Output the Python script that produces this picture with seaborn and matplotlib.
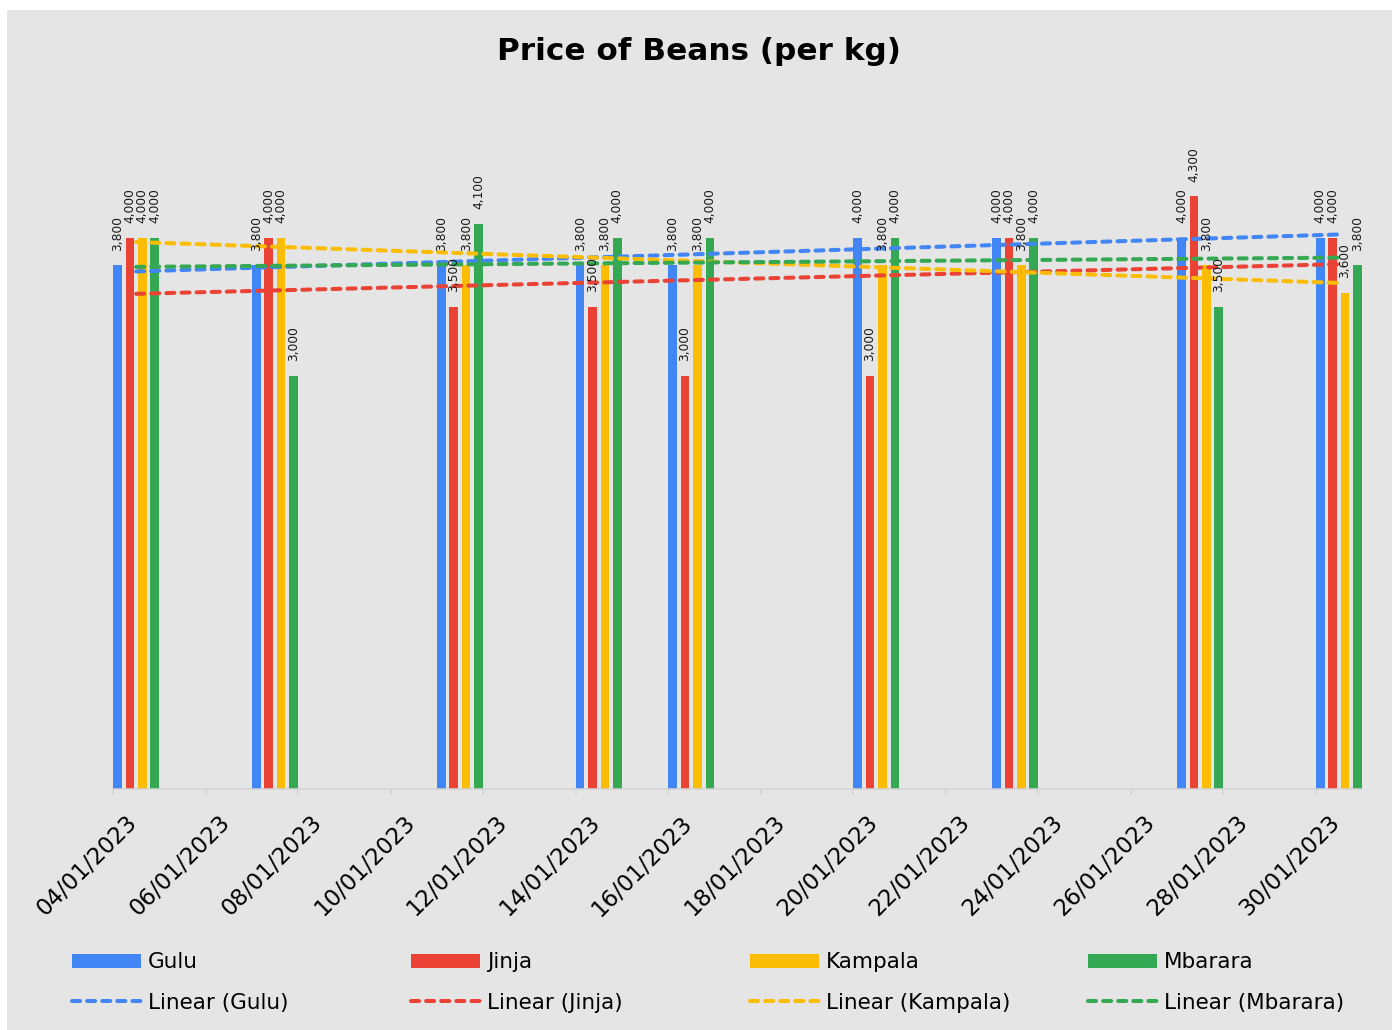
import matplotlib
matplotlib.use("Agg")
import matplotlib.pyplot as plt
import matplotlib.dates as mdates
import matplotlib.transforms as mtransforms
from matplotlib.patches import Rectangle, Patch
from matplotlib.lines import Line2D
from matplotlib.ticker import FixedLocator
import numpy as np
import pandas as pd
import seaborn as sns

# ---- data -------------------------------------------------------------
dates = ["2023-01-04", "2023-01-07", "2023-01-11", "2023-01-14", "2023-01-16",
         "2023-01-20", "2023-01-23", "2023-01-27", "2023-01-30"]
markets = ["Gulu", "Jinja", "Kampala", "Mbarara"]
gulu = [3800, 3800, 3800, 3800, 3800, 4000, 4000, 4000, 4000]
jinja = [4000, 4000, 3500, 3500, 3000, 3000, 4000, 4300, 4000]
kampala = [4000, 4000, 3800, 3800, 3800, 3800, 3800, 3800, 3600]
mbarara = [4000, 3000, 4100, 4000, 4000, 4000, 4000, 3500, 3800]
tick_dates = ["2023-01-04", "2023-01-06", "2023-01-08", "2023-01-10",
              "2023-01-12", "2023-01-14", "2023-01-16", "2023-01-18",
              "2023-01-20", "2023-01-22", "2023-01-24", "2023-01-26",
              "2023-01-28", "2023-01-30"]
axis_end = "2023-01-31"
title = "Price of Beans (per kg)"

colors = ["#4285F4", "#EA4335", "#FBBC04", "#34A853"]
bg = "#E5E5E5"

# each date occupies a one-day slot; bars are centred in the middle of it
day_num = mdates.date2num(pd.to_datetime(dates))
xpos = day_num + 0.5
series = {"Gulu": gulu, "Jinja": jinja, "Kampala": kampala, "Mbarara": mbarara}

df = pd.DataFrame({
    "x": np.tile(xpos, len(markets)),
    "price": np.concatenate([series[m] for m in markets]),
    "market": np.repeat(markets, len(dates)),
})

# ---- figure -----------------------------------------------------------
W, H = 1395, 1030
fig = plt.figure(figsize=(W / 100, H / 100), dpi=100)
fig.patch.set_facecolor("white")
fig.add_artist(Rectangle((7 / W, 0), (1392 - 7) / W, (H - 10) / H,
                         transform=fig.transFigure, facecolor=bg,
                         edgecolor="none", zorder=0))

left, right, bottom, top = 113, 1362, 789, 100
ax = fig.add_axes([left / W, 1 - bottom / H, (right - left) / W, (bottom - top) / H])
ax.set_facecolor("none")

sns.barplot(data=df, x="x", y="price", hue="market", hue_order=markets,
            palette=colors, native_scale=True, width=0.536, gap=0.31,
            errorbar=None, saturation=1, linewidth=0, legend=False, ax=ax)

dash = (0, (2, 1.75))
for m, c in zip(markets, colors):
    sns.regplot(x=xpos, y=np.array(series[m], dtype=float), scatter=False,
                ci=None, truncate=True, color=c, ax=ax,
                line_kws=dict(lw=2.9, ls=dash, dash_capstyle="round"))

for cont in ax.containers:
    ax.bar_label(cont, fmt="{:,.0f}", rotation=90, padding=10.5,
                 fontsize=8.8, color="#1a1a1a")

x0 = mdates.date2num(pd.to_datetime(tick_dates[0]))
x1 = mdates.date2num(pd.to_datetime(axis_end))
ax.set_xlim(x0, x1)
ax.set_ylim(0, 5000)
ax.set_xlabel("")
ax.set_ylabel("")

ax.xaxis.set_major_locator(FixedLocator(mdates.date2num(pd.to_datetime(tick_dates))))
ax.xaxis.set_major_formatter(mdates.DateFormatter("%d/%m/%Y"))
ax.yaxis.set_visible(False)
for s in ("left", "top", "right"):
    ax.spines[s].set_visible(False)
ax.spines["bottom"].set_color("#D4D4D4")
ax.spines["bottom"].set_linewidth(1.1)
ax.tick_params(axis="x", direction="out", length=4.3, width=1.1,
               color="#D4D4D4", pad=17.5, labelsize=16.5, labelcolor="black")

shift = mtransforms.ScaledTranslation(0.21, 0, fig.dpi_scale_trans)
for tick in ax.xaxis.get_major_ticks():
    lab = tick.label1
    lab.set_rotation(45)
    lab.set_ha("right")
    lab.set_va("center")
    lab.set_rotation_mode("anchor")
    lab.set_transform(lab.get_transform() + shift)

fig.text(699 / W, 1 - 60 / H, title, ha="center", va="baseline",
         fontsize=22.4, fontweight="bold", color="black")

# legend: four evenly spaced columns, bar swatch above its trend line
col_x = [72, 411, 750, 1088]
for m, c, xl in zip(markets, colors, col_x):
    handles = [Patch(facecolor=c, edgecolor="none"),
               Line2D([], [], color=c, lw=2.9, ls=dash, dash_capstyle="round")]
    labels = [m, f"Linear ({m})"]
    fig.legend(handles, labels, loc="center left",
               bbox_to_anchor=(xl / W, 1 - 982.5 / H),
               frameon=False, borderpad=0, borderaxespad=0,
               handlelength=3.2, handleheight=0.6, handletextpad=0.33,
               labelspacing=0.94, fontsize=15.5)

fig.savefig("out.png", dpi=100)
